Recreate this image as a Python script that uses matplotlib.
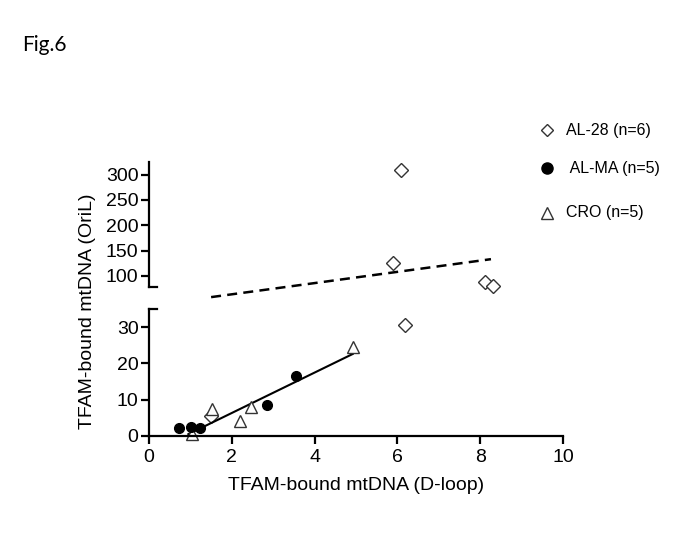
import numpy as np
import matplotlib
matplotlib.use("Agg")
from matplotlib import pyplot
from matplotlib.lines import Line2D

# ---- data ----
al28_x = [1.49, 5.89, 6.09, 6.19, 8.12, 8.31]
al28_y = [5.5, 126, 309, 30.7, 88, 79]
alma_x = [0.73, 1.01, 1.23, 2.84, 3.56]
alma_y = [2.1, 2.6, 2.1, 8.5, 16.5]
cro_x = [1.03, 1.51, 2.19, 2.46, 4.92]
cro_y = [0.5, 7.5, 4.2, 7.9, 24.5]

# regression lines (end points)
fit_dash_x = [1.5, 8.26]
fit_dash_y = [58, 133]
fit_solid_x = [0.95, 4.92]
fit_solid_y = [0.5, 22.6]

y_low = (0, 35)
y_high = (78, 325)
x_ticks = [0, 2, 4, 6, 8, 10]
low_ticks = [0, 10, 20, 30]
high_ticks = [100, 150, 200, 250, 300]

legend_labels = ["AL-28 (n=6)", " AL-MA (n=5)", "CRO (n=5)"]

pyplot.rcParams['font.family'] = ['Liberation Sans', 'DejaVu Sans']

W, H = 683, 538
fig = pyplot.figure(figsize=(W / 100, H / 100), dpi=100)
ax_lo = fig.add_axes([149 / W, 1 - 436 / H, 414 / W, 127 / H])
ax_hi = fig.add_axes([149 / W, 1 - 287 / H, 414 / W, 125 / H])

lw = 1.6
for ax in (ax_lo, ax_hi):
    for s in ("top", "right"):
        ax.spines[s].set_visible(False)
    ax.spines["left"].set_linewidth(lw)
    ax.spines["bottom"].set_linewidth(lw)
    ax.tick_params(axis="y", direction="out", length=5.5, width=lw, labelsize=14, pad=2)
    ax.tick_params(axis="x", direction="out", length=6, width=lw, labelsize=14, pad=3)
    ax.set_xlim(0, 10)
    ax.patch.set_alpha(0)

ax_hi.spines["bottom"].set_visible(False)
ax_hi.tick_params(axis="x", bottom=False, labelbottom=False)
ax_lo.set_ylim(*y_low)
ax_hi.set_ylim(*y_high)
ax_lo.set_xticks(x_ticks)
ax_lo.set_yticks(low_ticks)
ax_hi.set_yticks(high_ticks)

def draw(ax, x, y, **kw):
    ax.plot(x, y, linestyle="none", clip_on=False, **kw)

diamond = dict(marker="D", markersize=7.5, markerfacecolor="white", markeredgecolor="#333333", markeredgewidth=1.0)
circle = dict(marker="o", markersize=7, color="black")
tri = dict(marker="^", markersize=9, markerfacecolor="white", markeredgecolor="#333333", markeredgewidth=1.0)

# diamonds split between the two y ranges
for ax, lims in ((ax_lo, y_low), (ax_hi, y_high)):
    xs = [a for a, b in zip(al28_x, al28_y) if lims[0] - 2 <= b <= lims[1]]
    ys = [b for b in al28_y if lims[0] - 2 <= b <= lims[1]]
    draw(ax, xs, ys, **diamond)

ax_lo.plot(fit_solid_x, fit_solid_y, color="black", linewidth=1.5)
draw(ax_lo, cro_x, cro_y, **tri)
draw(ax_lo, alma_x, alma_y, **circle)
ax_hi.plot(fit_dash_x, fit_dash_y, color="black", linewidth=1.8, linestyle=(0, (4, 2.5)), clip_on=False)

# break caps on the y axis ends
ax_hi.plot([0, 0.2], [y_high[0], y_high[0]], color="black", linewidth=lw, clip_on=False)
ax_lo.plot([0, 0.2], [y_low[1], y_low[1]], color="black", linewidth=lw, clip_on=False)

fig.text(88 / W, 1 - 311 / H, "TFAM-bound mtDNA (OriL)", rotation=90, ha="center", va="center", fontsize=14)
fig.text(356 / W, 1 - 485 / H, "TFAM-bound mtDNA (D-loop)", ha="center", va="center", fontsize=14)
fig.text(22 / W, 1 - 45 / H, "Fig.6", ha="left", va="center", fontsize=15, family=["Lato", "DejaVu Sans"])

# legend drawn by hand (rows are not evenly spaced in the original)
leg_marks = [
    dict(marker="D", markersize=6.5, markerfacecolor="white", markeredgecolor="#333333", markeredgewidth=1.0),
    dict(marker="o", markersize=8, color="black"),
    dict(marker="^", markersize=8, markerfacecolor="white", markeredgecolor="#333333", markeredgewidth=1.0),
]
leg_rows = [130, 168, 213]
for mk, row, lab in zip(leg_marks, leg_rows, legend_labels):
    fig.add_artist(Line2D([547 / W], [1 - row / H], linestyle="none", transform=fig.transFigure, **mk))
    fig.text(566 / W, 1 - row / H, lab, ha="left", va="center", fontsize=11.5)

fig.savefig("out.png", dpi=100, facecolor="white")
